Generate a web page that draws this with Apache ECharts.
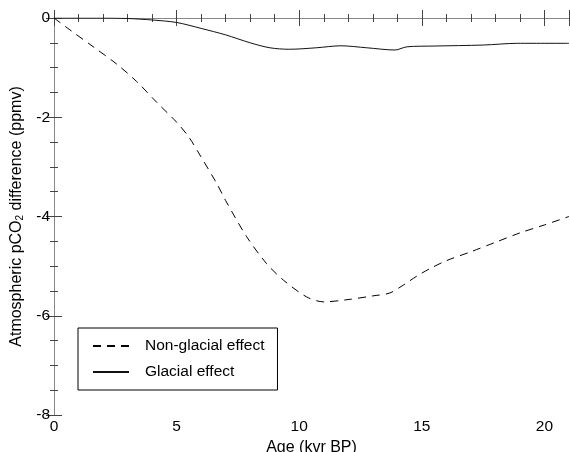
<!DOCTYPE html>
<html>
<head>
<meta charset="utf-8">
<script src="https://cdn.jsdelivr.net/npm/echarts@6/dist/echarts.min.js"></script>
<style>html,body{margin:0;padding:0;background:#fff;overflow:hidden}#c{width:570px;height:452px}</style>
</head>
<body>
<div id="c"></div>
<script>
var ageNonGlacial = [0, 0.65, 1.6, 2.56, 3.37, 4.19, 5.0, 5.5, 5.9, 6.63, 7.0, 7.86, 8.67, 9.35, 10.3, 11.0, 11.9, 13.0, 13.7, 14.25, 14.8, 15.33, 16.0, 17.0, 18.0, 19.0, 20.0, 21.0];
var nonGlacial    = [0, -0.24, -0.58, -0.93, -1.28, -1.7, -2.1, -2.4, -2.72, -3.33, -3.68, -4.41, -4.95, -5.28, -5.62, -5.72, -5.68, -5.6, -5.54, -5.38, -5.2, -5.05, -4.89, -4.71, -4.52, -4.33, -4.17, -4.0];
var ageGlacial    = [0, 2, 3, 4, 5, 6, 7, 8, 8.8, 9.6, 10.7, 11.7, 12.75, 13.9, 14.4, 15.5, 17.5, 18.9, 21];
var glacial       = [0, 0, -0.01, -0.04, -0.09, -0.21, -0.34, -0.5, -0.6, -0.63, -0.6, -0.56, -0.6, -0.645, -0.58, -0.565, -0.545, -0.51, -0.51];
var xTicks = {min: 0, max: 21, interval: 5};
var yTicks = {min: -8, max: 0, interval: 2};

function pairs(xs, ys) { return xs.map(function (x, i) { return [x, ys[i]]; }); }

var font = 'Liberation Sans, Arial, Helvetica, sans-serif';
var axisLine = {show: true, lineStyle: {color: '#888', width: 1}};
var axisTick = {show: true, inside: true, length: 8, lineStyle: {color: '#444', width: 1}};
var minorTick = {show: true, length: 4, lineStyle: {color: '#444', width: 1}};

var chart = echarts.init(document.getElementById('c'), null, {renderer: 'canvas'});
chart.setOption({
  animation: false,
  backgroundColor: '#fff',
  grid: {left: 54, right: 1, top: 18, bottom: 37, containLabel: false, outerBoundsMode: 'none'},
  xAxis: [{
    type: 'value', min: xTicks.min, max: xTicks.max, interval: xTicks.interval,
    position: 'bottom',
    name: 'Age (kvr BP)', nameLocation: 'middle', nameGap: 22,
    nameTextStyle: {fontFamily: font, fontSize: 16, color: '#000'},
    axisLine: axisLine, axisTick: axisTick,
    minorTick: Object.assign({splitNumber: 5}, minorTick),
    axisLabel: {fontFamily: font, fontSize: 15.5, color: '#000', margin: 4, showMaxLabel: false},
    splitLine: {show: false}, minorSplitLine: {show: false}
  }, {
    type: 'value', min: xTicks.min, max: xTicks.max, interval: xTicks.interval,
    position: 'top',
    axisLine: axisLine, axisTick: axisTick,
    minorTick: Object.assign({splitNumber: 5}, minorTick),
    axisLabel: {show: false}, splitLine: {show: false}
  }],
  yAxis: [{
    type: 'value', min: yTicks.min, max: yTicks.max, interval: yTicks.interval,
    position: 'left',
    name: 'Atmospheric pCO{sub|2} difference (ppmv)', nameLocation: 'middle', nameGap: 27,
    nameTextStyle: {fontFamily: font, fontSize: 16, color: '#000',
      rich: {sub: {fontFamily: font, fontSize: 10, color: '#000', verticalAlign: 'bottom', padding: [7, 0, 0, 0]}}},
    axisLine: axisLine, axisTick: axisTick,
    minorTick: Object.assign({splitNumber: 4}, minorTick),
    axisLabel: {fontFamily: font, fontSize: 15.5, color: '#000', margin: 4},
    splitLine: {show: false}, minorSplitLine: {show: false}
  }, {
    type: 'value', min: yTicks.min, max: yTicks.max, interval: yTicks.interval,
    position: 'right',
    axisLine: axisLine, axisTick: axisTick,
    minorTick: Object.assign({splitNumber: 4}, minorTick),
    axisLabel: {show: false}, splitLine: {show: false}
  }],
  legend: {
    show: true, orient: 'vertical', left: 78, top: 328,
    borderColor: '#000', borderWidth: 1, borderRadius: 0,
    padding: [10, 13, 10, 14],
    itemWidth: 36, itemHeight: 14, itemGap: 10,
    itemStyle: {opacity: 0, borderWidth: 0},
    textStyle: {fontFamily: font, fontSize: 15.5, color: '#000', padding: [0, 0, 0, 11]},
    data: ['Non-glacial effect', 'Glacial effect']
  },
  series: [{
    name: 'Non-glacial effect', type: 'line', xAxisIndex: 0, yAxisIndex: 0,
    data: pairs(ageNonGlacial, nonGlacial), smooth: 0.3, symbol: 'none',
    lineStyle: {color: '#000', width: 1, type: [8, 6]}, itemStyle: {color: '#000'}
  }, {
    name: 'Glacial effect', type: 'line', xAxisIndex: 0, yAxisIndex: 0,
    data: pairs(ageGlacial, glacial), smooth: 0.3, symbol: 'none',
    lineStyle: {color: '#111', width: 1, type: 'solid'}, itemStyle: {color: '#111'}
  }]
});
</script>
</body>
</html>
